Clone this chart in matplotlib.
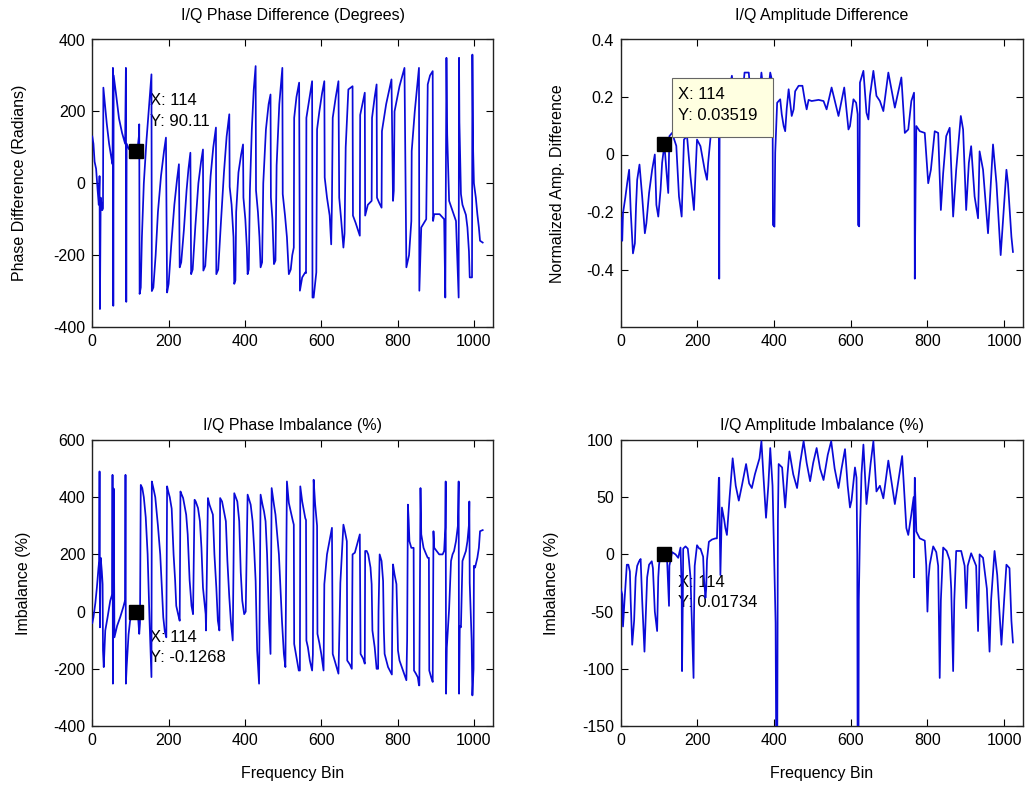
import matplotlib
matplotlib.use('Agg')
import matplotlib.pyplot as plt
from matplotlib.patches import Rectangle

plt.rcParams['font.family'] = ['Liberation Sans', 'DejaVu Sans']
plt.rcParams['font.size'] = 11

# ---------------- data ----------------
# I/Q phase difference (degrees) vs frequency bin : (bin, value)
phase_diff_pts = [
    (0, 130), (3, 110), (6, 60), (10, 40), (14, -20), (17, -60), (19, 20), (20, -350), (22, -40), (26, -75),
    (28, -70), (29, 266), (33, 220), (38, 165), (44, 110), (50, 70), (53, 53), (54, 321), (55, -341), (56, 300),
    (62, 250), (70, 180), (78, 140), (86, 110), (88, 321), (89, -330), (90, 110), (96, 95), (105, 90), (114, 90),
    (119, 100), (122, 130), (123, 164), (124, -308), (127, -290), (130, -150), (135, 0), (142, 120), (149, 220),
    (155, 303), (156, -300), (160, -290), (166, -200), (172, -80), (180, 20), (188, 90), (193, 127), (196, -304),
    (200, -280), (207, -170), (215, -60), (222, 10), (227, 53), (229, -234), (233, -220), (240, -130), (247, -20),
    (252, 40), (257, 85), (259, -253), (263, -240), (270, -120), (278, 0), (285, 60), (290, 94), (291, -243),
    (296, -230), (303, -110), (310, 20), (317, 100), (324, 155), (325, -253), (330, -240), (337, -110), (345, 30),
    (352, 130), (359, 192), (360, -10), (365, -60), (370, -150), (372, -280), (375, -270), (377, -80), (383, 30),
    (390, 80), (395, 108), (396, -40), (401, -100), (405, -180), (407, -253), (410, -240), (413, -20), (418, 150),
    (423, 260), (428, 326), (429, -20), (434, -80), (438, -150), (441, -234), (445, -220), (448, 0), (455, 150),
    (462, 220), (467, 247), (468, -40), (472, -100), (476, -225), (480, -215), (483, 50), (490, 220), (498, 321),
    (499, -30), (505, -90), (510, -150), (515, -253), (520, -240), (524, -200), (528, -179), (529, 182), (535, 240),
    (542, 280), (544, -299), (550, -262), (558, -248), (560, -250), (561, 182), (568, 230), (576, 284), (577, -318),
    (580, -318), (587, -248), (589, 150), (595, 200), (602, 250), (608, 284), (609, 16), (615, -40), (622, -90),
    (626, -170), (628, -50), (630, 182), (638, 240), (645, 284), (647, -40), (652, -100), (658, -179), (661, -140),
    (664, 100), (671, 261), (682, 270), (683, -90), (690, -110), (701, -146), (702, 190), (714, 252), (715, -90),
    (722, -60), (732, -49), (733, 182), (740, 240), (745, 275), (746, -40), (752, -55), (758, -68), (759, 145),
    (770, 220), (784, 289), (788, -49), (790, -21), (792, 200), (805, 270), (818, 321), (823, -234), (830, -200),
    (836, -105), (837, 90), (845, 200), (856, 321), (857, -299), (862, -123), (875, -100), (879, 275), (885, 300),
    (892, 312), (893, -105), (896, -86), (910, -86), (922, -100), (925, -318), (928, 349), (930, 136), (935, -49),
    (944, -77), (953, -105), (957, -225), (960, -318), (961, 349), (962, 170), (966, -30), (970, -60), (979, -88),
    (983, -123), (987, -190), (989, -262), (995, -262), (996, 358), (998, 90), (1000, 0), (1005, -40), (1009, -86),
    (1013, -123), (1016, -160), (1023, -165),
]

# I/Q amplitude difference (normalized)
amp_diff_pts = [
    (0, -0.22), (4, -0.30), (6, -0.204), (12, -0.15), (17, -0.099), (22, -0.053), (26, -0.193), (32, -0.344),
    (37, -0.309), (40, -0.18), (43, -0.088), (49, -0.035), (56, -0.146), (63, -0.274), (67, -0.239), (74, -0.134),
    (82, -0.053), (89, 0.0), (93, -0.175), (98, -0.216), (104, -0.123), (108, -0.029), (114, 0.0352), (119, -0.053),
    (124, -0.134), (127, 0.064), (134, 0.075), (145, 0.03), (152, -0.146), (159, -0.216), (165, 0.052), (173, 0.064),
    (182, -0.076), (191, -0.193), (199, 0.052), (208, 0.029), (219, -0.053), (225, -0.088), (228, -0.03), (235, 0.07),
    (245, 0.18), (252, 0.2), (256, 0.064), (257, -0.432), (258, 0.1), (265, 0.24), (273, 0.15), (282, 0.22),
    (290, 0.274), (298, 0.18), (308, 0.24), (316, 0.18), (323, 0.285), (334, 0.285), (342, 0.15), (351, 0.22),
    (360, 0.18), (367, 0.285), (374, 0.2), (381, 0.17), (390, 0.285), (396, 0.25), (397, -0.245), (401, -0.251),
    (403, 0.006), (408, 0.18), (416, 0.192), (420, 0.14), (425, 0.099), (429, 0.081), (433, 0.16), (438, 0.227),
    (446, 0.134), (451, 0.157), (455, 0.22), (464, 0.239), (474, 0.239), (480, 0.19), (485, 0.157), (490, 0.19),
    (498, 0.186), (516, 0.19), (529, 0.186), (537, 0.157), (550, 0.233), (568, 0.134), (583, 0.233), (594, 0.087),
    (598, 0.099), (607, 0.192), (614, 0.18), (618, 0.14), (619, -0.245), (622, -0.25), (624, 0.25), (633, 0.291),
    (641, 0.145), (646, 0.122), (650, 0.204), (659, 0.291), (667, 0.204), (676, 0.186), (685, 0.151), (698, 0.285),
    (715, 0.163), (732, 0.268), (741, 0.075), (750, 0.087), (758, 0.186), (765, 0.215), (766, 0.1), (767, -0.432),
    (769, -0.123), (771, 0.099), (780, 0.081), (793, 0.075), (802, -0.1), (809, -0.053), (819, 0.081), (828, 0.075),
    (835, -0.193), (841, -0.065), (849, 0.064), (858, 0.093), (867, -0.216), (875, -0.053), (887, 0.134),
    (893, 0.087), (901, -0.193), (908, -0.029), (914, 0.029), (923, -0.146), (932, -0.222), (936, 0.011),
    (945, -0.053), (958, -0.274), (971, 0.035), (980, -0.1), (991, -0.35), (1006, -0.053), (1010, -0.1),
    (1019, -0.286), (1023, -0.339),
]

# I/Q phase imbalance (%)
phase_imb_pts = [
    (0, -40), (3, -20), (8, 30), (12, 84), (16, 150), (18, 177), (19, 490), (20, -55), (22, 188), (25, 140),
    (27, 96), (28, -136), (30, -194), (34, -66), (40, -20), (47, 38), (52, 60), (53, 478), (54, -252), (56, 430),
    (58, -90), (65, -50), (73, -20), (81, 15), (86, 40), (87, 478), (88, -252), (90, -194), (95, -80), (99, -32),
    (105, -10), (114, -0.13), (120, -20), (123, -78), (125, -40), (127, 443), (131, 432), (135, 400), (140, 330),
    (145, 200), (150, -32), (155, -229), (156, 455), (160, 432), (165, 400), (172, 300), (178, 200), (182, 90),
    (186, -20), (190, -70), (194, -90), (196, 438), (199, 420), (203, 400), (208, 360), (213, 200), (217, 110),
    (220, 20), (225, -10), (229, -32), (231, 420), (233, 413), (238, 397), (246, 339), (250, 270), (255, 110),
    (260, 20), (264, -9), (268, 391), (271, 385), (277, 362), (282, 316), (286, 223), (290, 84), (297, -9),
    (298, -66), (303, 397), (307, 374), (316, 339), (320, 200), (325, 84), (329, -32), (333, -66), (335, 397),
    (340, 385), (350, 316), (354, 177), (359, 50), (363, -32), (368, -101), (372, 414), (380, 385), (385, 316),
    (389, 137), (393, 38), (398, -9), (402, 0), (407, 409), (415, 374), (420, 316), (424, 223), (428, 107),
    (432, -136), (437, -252), (441, 409), (446, 374), (450, 350), (454, 316), (458, 200), (463, -32), (467, -148),
    (470, 432), (476, 374), (480, 339), (489, 200), (497, -32), (502, -148), (506, -194), (510, 455), (515, 380),
    (520, 350), (525, 320), (528, 304), (529, -113), (535, -160), (541, -206), (544, -206), (545, 438), (550, 385),
    (555, 350), (558, 327), (560, 320), (561, -101), (565, -125), (570, -171), (576, -206), (578, -150), (579, 177),
    (580, 461), (584, 374), (589, 300), (590, -78), (595, -110), (600, -148), (606, -206), (608, 96), (615, 200),
    (622, 250), (628, 293), (630, -148), (636, -175), (645, -217), (647, -100), (650, 100), (658, 304), (662, 280),
    (667, 246), (668, -171), (675, -185), (680, -200), (682, 200), (688, 206), (701, 270), (703, -148), (710, -165),
    (714, -182), (715, 212), (719, 212), (723, 200), (729, 154), (732, 96), (734, -66), (740, -125), (745, -200),
    (749, -200), (750, 0), (753, 200), (758, 177), (760, 142), (762, 107), (764, -66), (766, -148), (775, -194),
    (785, -220), (786, -32), (788, 165), (792, 130), (797, 96), (799, -9), (801, -136), (805, -171), (814, -206),
    (823, -240), (825, -100), (827, 374), (829, 320), (831, 246), (836, 223), (842, 223), (843, -206), (848, -217),
    (853, -230), (856, -258), (857, -258), (860, 432), (862, 270), (868, 223), (875, 200), (879, 188), (882, 188),
    (883, -206), (888, -230), (892, -246), (894, 281), (896, 223), (909, 200), (918, 200), (922, 212), (925, 293),
    (926, 455), (927, -287), (929, -125), (935, 10), (940, 177), (944, 200), (948, 212), (953, 246), (958, 300),
    (960, 455), (961, -287), (963, -50), (966, -55), (970, 177), (979, 212), (983, 246), (987, 304), (988, 385),
    (989, 100), (994, -100), (996, -293), (999, -200), (1000, 160), (1003, 154), (1009, 188), (1013, 223),
    (1016, 281), (1023, 285),
]

# I/Q amplitude imbalance (%)
amp_imb_pts = [
    (0, -30), (4, -35), (6, -63), (10, -40), (16, -9), (20, -9), (24, -15), (26, -40), (30, -79), (35, -58),
    (39, -20), (43, -10), (48, -6), (52, -4), (56, -40), (62, -85), (65, -58), (69, -20), (74, -9), (81, -6),
    (84, -12), (89, -50), (95, -67), (98, -20), (100, -9), (104, 0), (110, 2), (114, 0.017), (121, -5), (126, -45),
    (127, -10), (134, 2), (143, 0), (150, -3), (156, 6), (159, -30), (160, -102), (162, -40), (163, 5), (169, 7),
    (175, 5), (178, -5), (182, -20), (190, -108), (191, -60), (193, -10), (199, 8), (205, 5), (208, 5), (215, -2),
    (217, -20), (221, -38), (223, -30), (225, -5), (230, 11), (238, 13), (247, 14), (251, 14), (256, 67), (257, 67),
    (258, 30), (260, -18), (262, 10), (264, 41), (270, 30), (273, 23), (277, 17), (284, 50), (292, 84), (300, 60),
    (308, 47), (316, 60), (327, 79), (335, 62), (342, 58), (350, 70), (362, 84), (367, 99), (372, 70), (379, 32),
    (385, 60), (390, 93), (396, 60), (401, -17), (404, -60), (406, -200), (408, -200), (410, 30), (412, 79),
    (421, 76), (429, 41), (435, 70), (440, 90), (450, 70), (460, 58), (468, 80), (477, 99), (485, 80), (494, 64),
    (502, 80), (511, 93), (520, 75), (529, 65), (540, 87), (549, 99), (558, 75), (568, 58), (576, 75), (585, 92),
    (592, 60), (598, 41), (602, 47), (611, 76), (615, 67), (617, 0), (618, -200), (620, -200), (621, -40), (624, 20),
    (628, 70), (633, 96), (641, 44), (646, 60), (652, 80), (659, 99), (667, 55), (676, 60), (685, 49), (698, 82),
    (715, 44), (734, 86), (745, 23), (750, 17), (758, 35), (764, 50), (765, -20), (766, 40), (767, 67), (771, 20),
    (780, 14), (793, 12), (797, -10), (800, -50), (803, -20), (806, -9), (815, 7), (823, 2), (828, -10), (832, -108),
    (835, -40), (841, 6), (850, 3), (858, -5), (862, -30), (867, -102), (870, -40), (875, 3), (888, 3), (897, -10),
    (901, -47), (905, -10), (914, 1), (927, -10), (932, -67), (936, 0), (945, -3), (955, -30), (962, -85), (966, -40),
    (975, 3), (982, -18), (993, -79), (1000, -40), (1006, -9), (1014, -12), (1019, -58), (1023, -77),
]

# data tips
tip_bin = 114
tip_phase_diff = 90.11
tip_amp_diff = 0.03519
tip_phase_imb = -0.1268
tip_amp_imb = 0.01734

titles = ["I/Q Phase Difference (Degrees)", "I/Q Amplitude Difference",
          "I/Q Phase Imbalance (%)", "I/Q Amplitude Imbalance (%)"]
ylabels = ["Phase Difference (Radians)", "Normalized Amp. Difference",
           "Imbalance (%)", "Imbalance (%)"]
xlabel = "Frequency Bin"
xticks = [0, 200, 400, 600, 800, 1000]
yticks_list = [[-400, -200, 0, 200, 400], [-0.4, -0.2, 0, 0.2, 0.4],
               [-400, -200, 0, 200, 400, 600], [-150, -100, -50, 0, 50, 100]]
ytick_labels = [["-400", "-200", "0", "200", "400"], ["-0.4", "-0.2", "0", "0.2", "0.4"],
                ["-400", "-200", "0", "200", "400", "600"], ["-150", "-100", "-50", "0", "50", "100"]]
ylims = [(-400, 400), (-0.6, 0.4), (-400, 600), (-150, 100)]

# ---------------- figure ----------------
W, H = 1028, 786
fig = plt.figure(figsize=(W / 100, H / 100), dpi=100)
fig.patch.set_facecolor('white')


def axes_px(l, t, r, b):
    return fig.add_axes([l / W, 1 - b / H, (r - l) / W, (b - t) / H])


axs = [axes_px(92.3, 39.5, 493, 327), axes_px(620.7, 39.5, 1023.3, 327),
       axes_px(92.3, 440, 493, 726), axes_px(620.7, 440, 1023.3, 726)]
series = [phase_diff_pts, amp_diff_pts, phase_imb_pts, amp_imb_pts]
tips = [tip_phase_diff, tip_amp_diff, tip_phase_imb, tip_amp_imb]
ylabel_x = [-0.162, -0.138, -0.152, -0.153]
title_pad = [14, 14, 7, 7]
line_color = '#0a0ad8'

for i, ax in enumerate(axs):
    xs = [p[0] for p in series[i]]
    ys = [p[1] for p in series[i]]
    ax.plot(xs, ys, color=line_color, lw=1.25, zorder=3)
    ax.set_xlim(0, 1050)
    ax.set_ylim(*ylims[i])
    ax.set_xticks(xticks)
    ax.set_xticklabels([str(t) for t in xticks])
    ax.set_yticks(yticks_list[i])
    ax.set_yticklabels(ytick_labels[i])
    ax.tick_params(direction='in', top=True, right=True, length=5, width=0.8,
                   labelsize=11.5, pad=5, colors='black')
    for s in ax.spines.values():
        s.set_linewidth(1.0)
        s.set_color('#222222')
    ax.set_title(titles[i], fontsize=11.5, pad=title_pad[i])
    ax.set_ylabel(ylabels[i], fontsize=11.5)
    ax.yaxis.set_label_coords(ylabel_x[i], 0.5)
    if i >= 2:
        ax.set_xlabel(xlabel, fontsize=11.5, labelpad=13)
    ax.plot([tip_bin], [tips[i]], marker='s', ms=9.5, color='black', zorder=6, ls='none')

# data tip texts
common = dict(textcoords='offset pixels', ha='left', va='center', fontsize=12, linespacing=1.45)
axs[0].annotate("X: 114\nY: 90.11", xy=(tip_bin, tip_phase_diff), xytext=(14, 40), zorder=1, **common)
axs[2].annotate("X: 114\nY: -0.1268", xy=(tip_bin, tip_phase_imb), xytext=(14, -36), zorder=1, **common)
axs[3].annotate("X: 114\nY: 0.01734", xy=(tip_bin, tip_amp_imb), xytext=(14, -38), zorder=1, **common)

# boxed data tip in the amplitude difference panel
ax = axs[1]
ax.add_patch(Rectangle((0.1274, 0.661), 0.2509, 0.205, transform=ax.transAxes,
                       facecolor='#ffffe1', edgecolor='#666666', lw=0.8, zorder=7))
ax.text(0.1424, 0.772, "X: 114\nY: 0.03519", transform=ax.transAxes, ha='left', va='center',
        fontsize=12, linespacing=1.45, zorder=8)

fig.savefig('out.png', dpi=100, facecolor='white')
